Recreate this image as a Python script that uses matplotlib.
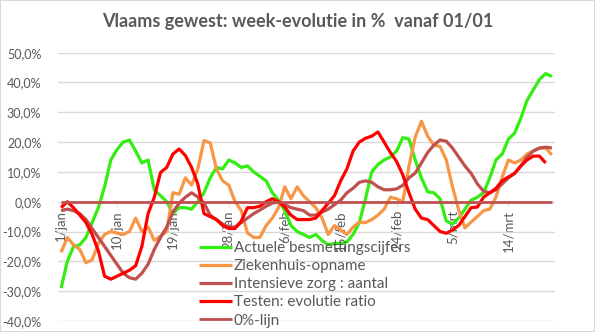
import matplotlib
matplotlib.use('Agg')
import matplotlib.pyplot as plt
import numpy as np
from matplotlib.patches import Rectangle

# ---------------- data ----------------
days = list(range(80))
tick_days = [0, 9, 18, 27, 36, 45, 54, 63, 72]
tick_labels = ['1/jan', '10/jan', '19/jan', '28/jan', '6/feb', '15/feb', '24/feb', '5/mrt', '14/mrt']

besmettingen = [-29, -20, -15, -14.5, -12, -7, -2, 5, 14, 17.5,
                20, 20.7, 17, 13, 14, 4, 2, 0, -4, -2,
                -2, -2.5, 0, 3, 8, 11.5, 11, 14, 13, 11.5,
                12, 10, 8.5, 7, 3, 0.5, -3, -8, -10, -11,
                -12, -11, -13, -14.5, -14, -14, -13.5, -11, -7, 1,
                10, 12.5, 14, 15, 17, 21.5, 21, 14, 8, 3.3,
                3, 1, -6.5, -7.5, -5.5, -2.5, 0.5, 1.5, 3, 8,
                14, 16, 21, 23, 28, 34, 37.5, 41, 43, 42]

ziekenhuis = [-17, -12, -14.5, -16, -20.5, -19.5, -14, -11, -10, -10.5,
              -11, -10, -5.5, -10, -8.5, -13, -11.5, -10, 3, 2.5,
              8, 5.6, 11, 20.5, 19.7, 11, 7, 5.5, 0, -3,
              -10.5, -12, -12, -8, -5.5, -2, 5, 1, 5, 2,
              0, -2, -5.5, -11, -8, -9.5, -11, -8.5, -6.8, -7,
              -6, -4.5, -2.5, 1.5, 1, 0, 12, 21.7, 27, 22,
              19, 18.5, 14, 5, -2.8, -8.8, -6.8, -5, -3, -2.5,
              1.6, 8.3, 14, 13, 14, 16, 17, 18, 18, 15.7]

intensieve = [-3, -2.5, -3, -4, -6, -9, -12, -15, -18, -21,
              -24, -25.5, -26, -24, -21, -16, -12, -8.5, -3.5, -0.5,
              1.5, 3, 1.6, -0.5, -4.5, -6, -7.5, -8.5, -8.5, -7,
              -5.5, -4, -2.8, -1.5, -0.5, 0, -1, -2, -2.5, -3,
              -4.5, -4.5, -3.5, -2.5, -1, 0.5, 3, 4.5, 6.5, 7,
              6.5, 5, 4, 4, 4.3, 5.5, 8, 9.6, 13, 16.5,
              19, 20.7, 20.3, 18, 15, 12, 9.5, 6, 3.5, 3,
              4, 6, 8, 9.5, 12, 15, 17, 18, 18.3, 18]

testen = [-2, 0, -2, -4.5, -7, -11, -16.5, -25, -26, -25,
          -24, -23, -21.5, -15, -4, 1.5, 9.8, 11.5, 16, 17.7,
          15.5, 11.5, 6, -4, -5, -6, -8, -9, -9, -6.5,
          -2, -2, -1.5, 0, 1, 0, -1.8, -4.5, -6, -6,
          -6, -5.5, -3, -0.5, 2, 7, 11, 17, 20, 21.3,
          22, 23.4, 20, 16.5, 13.5, 9, 3, -2.5, -5.5, -6,
          -8, -10, -10.6, -9.5, -8, -5, -2, -1.8, 1.5, 3,
          4.5, 7, 8.3, 9.5, 12, 14, 15.3, 15.3, 13, np.nan]

nul_lijn = [0] * 80

series_names = ['Actuele besmettingscijfers', 'Ziekenhuis-opname',
                'Intensieve zorg : aantal', 'Testen: evolutie ratio', '0%-lijn']

# ---------------- style ----------------
FONT = 'Lato'
TXT = '#595959'
GRID = '#D9D9D9'
colors = ['#33EE11', '#F79646', '#C0504D', '#FF0000', '#C0504D']
widths = [2.3, 2.3, 2.3, 2.3, 2.0]

plt.rcParams['font.family'] = [FONT, 'DejaVu Sans']

W, H = 595, 332
fig = plt.figure(figsize=(W / 100, H / 100), dpi=100)
fig.patch.set_facecolor('white')

left, right, top, bottom = 58, 555, 52.7, 320.9
ax = fig.add_axes([left / W, 1 - bottom / H, (right - left) / W, (bottom - top) / H])

# category axis crosses at 0 (set before ticks, because it resets them)
ax.spines['bottom'].set_position(('data', 0))
for s in ['top', 'right', 'left', 'bottom']:
    ax.spines[s].set_visible(False)

all_series = [besmettingen, ziekenhuis, intensieve, testen, nul_lijn]
for vals, name, c, lw in zip(all_series, series_names, colors, widths):
    ax.plot(days, vals, color=c, lw=lw, label=name, solid_joinstyle='round', solid_capstyle='butt')

ax.set_ylim(-40, 50)
ax.set_xlim(-0.5, 79.5)
yt = list(range(-40, 51, 10))
ax.set_yticks(yt)
ax.set_yticklabels([f"{v:.1f}%".replace('.', ',') for v in yt])
ax.yaxis.grid(True, color=GRID, lw=1.0)
ax.set_axisbelow(True)

ax.set_xticks(tick_days)
ax.set_xticklabels(tick_labels)

ax.tick_params(axis='y', length=0, pad=12, labelsize=9, labelcolor=TXT)
ax.tick_params(axis='x', length=3, color=GRID, pad=3, labelsize=9.5, labelcolor=TXT,
               labelrotation=90)

fig.text(0.5, 1 - 27 / H, 'Vlaams gewest: week-evolutie in %  vanaf 01/01',
         ha='center', va='baseline', fontsize=13, fontweight='bold', color=TXT)

leg = ax.legend(loc='upper left', bbox_to_anchor=(199 / W, 1 - 241 / H),
                bbox_transform=fig.transFigure, frameon=False, fontsize=11,
                handlelength=2.15, handletextpad=0.13, labelspacing=0.27,
                borderpad=0, borderaxespad=0)
for t in leg.get_texts():
    t.set_color(TXT)

fig.patches.append(Rectangle((0, 0), 1, 1, transform=fig.transFigure, fill=False,
                             edgecolor=GRID, lw=1.5))

fig.savefig('out.png', dpi=100)
